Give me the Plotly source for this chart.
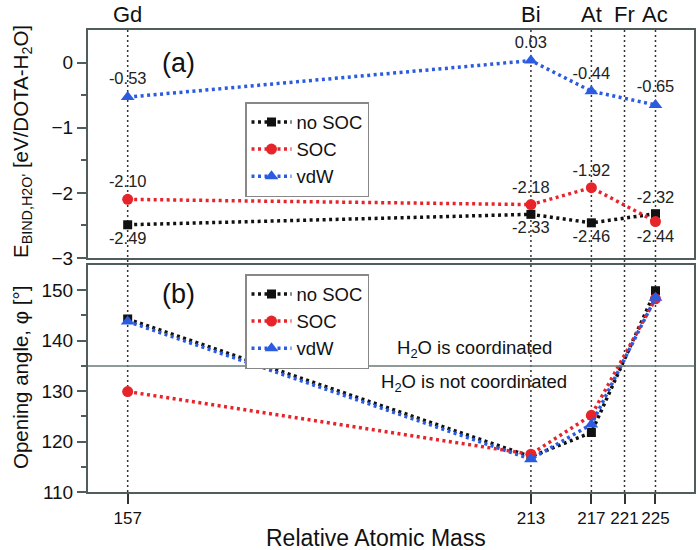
import plotly.graph_objects as go

# ---------------- data ----------------
elements = ["Gd", "Bi", "At", "Fr", "Ac"]
masses = [157, 213, 217, 221, 225]
# horizontal placement of each mass on the (non-uniform) published axis
axis_pos = [157, 213, 221.4, 226.0, 230.3]

data_masses = [157, 213, 217, 225]

ebind_nosoc = [-2.49, -2.33, -2.46, -2.32]
ebind_soc = [-2.10, -2.18, -1.92, -2.44]
ebind_vdw = [-0.53, 0.03, -0.44, -0.65]

angle_nosoc = [144.3, 117.0, 121.8, 149.9]
angle_soc = [129.9, 117.5, 125.2, 148.3]
angle_vdw = [143.8, 116.5, 123.4, 148.5]

coord_threshold = 135

# label placement for values in panel (a)
pos_nosoc = ["bottom center", "bottom center", "bottom center", "top center"]
pos_soc = ["top center", "top center", "top center", "bottom center"]
pos_vdw = ["top center"] * 4

# ---------------- style ----------------
FONT = "Arial, Liberation Sans, sans-serif"
BLACK = "#111111"
RED = "#E8242B"
BLUE = "#2B5CE0"
FRAME = "#4f5d5d"

pos_of = dict(zip(masses, axis_pos))
xd = [pos_of[m] for m in data_masses]

series = [
    ("no SOC", BLACK, "square", 9),
    ("SOC", RED, "circle", 11),
    ("vdW", BLUE, "triangle-up", 12),
]

fig = go.Figure()

top_vals = [ebind_nosoc, ebind_soc, ebind_vdw]
top_pos = [pos_nosoc, pos_soc, pos_vdw]
bot_vals = [angle_nosoc, angle_soc, angle_vdw]

for (name, col, sym, sz), yv, tp in zip(series, top_vals, top_pos):
    fig.add_trace(go.Scatter(
        x=xd, y=yv, mode="lines+markers+text", name=name,
        text=[f"{v:.2f}" for v in yv], textposition=tp,
        textfont=dict(size=16.5, color="#222", family=FONT),
        line=dict(color=col, width=3.5, dash="3px,3.5px"),
        marker=dict(symbol=sym, size=sz, color=col),
        xaxis="x", yaxis="y", legend="legend", cliponaxis=False,
    ))

for (name, col, sym, sz), yv in zip(series, bot_vals):
    fig.add_trace(go.Scatter(
        x=xd, y=yv, mode="lines+markers", name=name,
        line=dict(color=col, width=3.5, dash="3px,3.5px"),
        marker=dict(symbol=sym, size=sz, color=col),
        xaxis="x2", yaxis="y2", legend="legend2", cliponaxis=False,
    ))

W, H = 698, 550
def px_x(p):
    return p / W
def px_y(p):
    return 1 - p / H

x_dom = [px_x(88), px_x(694)]
top_dom = [px_y(258), px_y(30)]
bot_dom = [px_y(492), px_y(265)]
xrange = [151.49, 235.65]

axis_common = dict(showline=True, mirror=True, linecolor=FRAME, linewidth=2,
                   showgrid=False, zeroline=False)

shapes = []
for p in axis_pos:
    shapes.append(dict(type="line", xref="x2", yref="paper", x0=p, x1=p,
                       y0=bot_dom[0], y1=top_dom[1],
                       line=dict(color="#333", width=1.5, dash="2px,3px"), layer="below"))
shapes.append(dict(type="line", xref="x2 domain", yref="y2", x0=0, x1=1,
                   y0=coord_threshold, y1=coord_threshold,
                   line=dict(color="#6a7a7a", width=1.5)))

def ann(text, x, y, size, angle=0, xref="paper"):
    return dict(text=text, x=x, y=y, xref=xref, yref="paper", showarrow=False,
                xanchor="center", yanchor="middle", textangle=angle,
                font=dict(size=size, color="#111", family=FONT))

annotations = []
for el, p in zip(elements, axis_pos):
    annotations.append(ann(el, p, px_y(14), 22, xref="x2"))
annotations += [
    ann("(a)", px_x(178), px_y(63), 27),
    ann("(b)", px_x(178), px_y(294), 27),
    ann("H<sub>2</sub>O is coordinated", px_x(474), px_y(349), 18.5),
    ann("H<sub>2</sub>O is not coordinated", px_x(474), px_y(383), 18.5),
    ann("E<sub>BIND,H2O'</sub> [eV/DOTA-H<sub>2</sub>O]", px_x(22), px_y(142), 20.5, -90),
    ann("Opening angle, φ [°]", px_x(20), px_y(378), 20.5, -90),
    ann("Relative Atomic Mass", px_x(376), px_y(538), 23),
]

legend_style = dict(bgcolor="white", bordercolor="#888", borderwidth=1.5,
                    font=dict(size=18.5, color="#111", family=FONT),
                    xanchor="left", yanchor="top", itemwidth=40, tracegroupgap=0,
                    xref="paper", yref="paper")

fig.update_layout(
    width=W, height=H,
    margin=dict(l=0, r=0, t=0, b=0),
    paper_bgcolor="white", plot_bgcolor="white",
    font=dict(family=FONT, color="#111"),
    showlegend=True,
    xaxis=dict(domain=x_dom, range=xrange, anchor="y", showticklabels=False,
               ticks="", **axis_common),
    yaxis=dict(domain=top_dom, range=[-3, 0.5], anchor="x", tickvals=[-3, -2, -1, 0],
               ticks="outside", ticklen=9, tickwidth=1.5, tickcolor=FRAME,
               minor=dict(tickvals=[-2.5, -1.5, -0.5], ticks="outside", ticklen=5,
                          tickwidth=1.5, tickcolor=FRAME),
               tickfont=dict(size=19, color="#111"), automargin=False, **axis_common),
    xaxis2=dict(domain=x_dom, range=xrange, anchor="y2", tickvals=axis_pos,
                ticktext=[str(m) for m in masses], ticks="outside", ticklen=10,
                tickwidth=1.5, tickcolor="#333", tickangle=0,
                tickfont=dict(size=17, color="#111"),
                automargin=False, **axis_common),
    yaxis2=dict(domain=bot_dom, range=[110, 155], anchor="x2", tickvals=[110, 120, 130, 140, 150],
                ticks="outside", ticklen=9, tickwidth=1.5, tickcolor=FRAME,
                minor=dict(tickvals=[115, 125, 135, 145], ticks="outside", ticklen=5,
                           tickwidth=1.5, tickcolor=FRAME),
                tickfont=dict(size=19, color="#111"), automargin=False, **axis_common),
    legend=dict(x=px_x(245), y=px_y(102), **legend_style),
    legend2=dict(x=px_x(245), y=px_y(274), **legend_style),
    shapes=shapes,
    annotations=annotations,
)

fig.write_html("out.html", config={"displayModeBar": False},
               post_script="document.body.style.margin='0px';document.body.style.overflow='hidden';")
